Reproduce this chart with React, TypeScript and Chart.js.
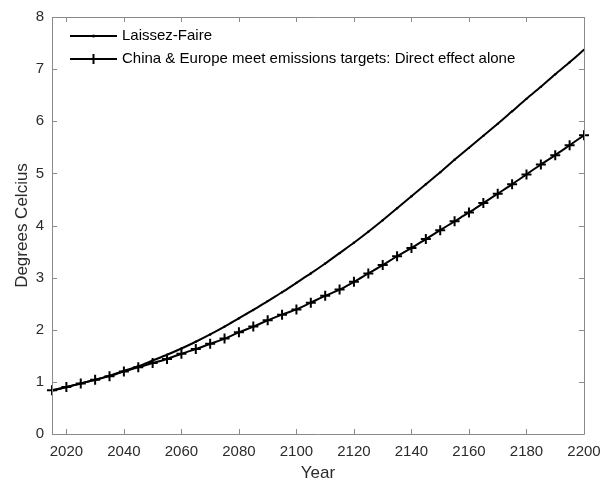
import React, { useEffect, useRef } from "react";
import { Chart, registerables } from "chart.js";

Chart.register(...registerables);

const years = [
  2015, 2020, 2025, 2030, 2035, 2040, 2045, 2050, 2055, 2060, 2065, 2070, 2075,
  2080, 2085, 2090, 2095, 2100, 2105, 2110, 2115, 2120, 2125, 2130, 2135, 2140,
  2145, 2150, 2155, 2160, 2165, 2170, 2175, 2180, 2185, 2190, 2195, 2200,
];

const laissezFaire = [
  0.83, 0.9, 0.97, 1.04, 1.12, 1.21, 1.3, 1.41, 1.52, 1.64, 1.77, 1.91, 2.06,
  2.22, 2.38, 2.55, 2.72, 2.9, 3.08, 3.27, 3.47, 3.67, 3.88, 4.1, 4.33, 4.56,
  4.79, 5.02, 5.26, 5.49, 5.72, 5.95, 6.19, 6.43, 6.66, 6.9, 7.13, 7.37,
];

const chinaEurope = [
  0.84, 0.9, 0.97, 1.04, 1.11, 1.2, 1.28, 1.36, 1.44, 1.54, 1.63, 1.73, 1.83,
  1.95, 2.06, 2.18, 2.29, 2.39, 2.52, 2.65, 2.77, 2.92, 3.08, 3.24, 3.41, 3.57,
  3.74, 3.91, 4.08, 4.25, 4.43, 4.61, 4.79, 4.98, 5.17, 5.35, 5.54, 5.73,
];

const seriesLabels = [
  "Laissez-Faire",
  "China & Europe meet emissions targets: Direct effect alone",
];

const xTicks = [2020, 2040, 2060, 2080, 2100, 2120, 2140, 2160, 2180, 2200];
const yTicks = [0, 1, 2, 3, 4, 5, 6, 7, 8];

const FONT = "'Liberation Sans', Arial, sans-serif";
const AXIS_COLOR = "#8a8a8a";
const TEXT_COLOR = "#2b2b2b";

const boxPlugin = {
  id: "matlabBox",
  afterDatasetsDraw(chart: any) {
    const { ctx, chartArea } = chart;
    const { left, right, top, bottom } = chartArea;
    const xs = chart.scales.x;
    const ys = chart.scales.y;
    ctx.save();
    ctx.strokeStyle = AXIS_COLOR;
    ctx.lineWidth = 1;
    ctx.beginPath();
    ctx.rect(Math.round(left) + 0.5, Math.round(top) + 0.5, Math.round(right - left), Math.round(bottom - top));
    ctx.stroke();
    const tl = 5;
    ctx.beginPath();
    for (const v of xTicks) {
      const px = Math.round(xs.getPixelForValue(v)) + 0.5;
      ctx.moveTo(px, bottom);
      ctx.lineTo(px, bottom - tl);
      ctx.moveTo(px, top);
      ctx.lineTo(px, top + tl);
    }
    for (const v of yTicks) {
      const py = Math.round(ys.getPixelForValue(v)) + 0.5;
      ctx.moveTo(left, py);
      ctx.lineTo(left + tl, py);
      ctx.moveTo(right, py);
      ctx.lineTo(right - tl, py);
    }
    ctx.stroke();

    // legend
    const rows = [
      { y: 36, label: chart.data.datasets[0].label, marker: "dot" },
      { y: 59, label: chart.data.datasets[1].label, marker: "cross" },
    ];
    const x0 = 70;
    const x1 = 117;
    const xm = (x0 + x1) / 2;
    for (const r of rows) {
      ctx.strokeStyle = "#000";
      ctx.lineWidth = 2;
      ctx.beginPath();
      ctx.moveTo(x0, r.y);
      ctx.lineTo(x1, r.y);
      ctx.stroke();
      if (r.marker === "cross") {
        ctx.beginPath();
        ctx.moveTo(xm, r.y - 5);
        ctx.lineTo(xm, r.y + 5);
        ctx.moveTo(xm - 5, r.y);
        ctx.lineTo(xm + 5, r.y);
        ctx.stroke();
      } else {
        ctx.fillStyle = "#000";
        ctx.beginPath();
        ctx.arc(xm, r.y, 1.5, 0, Math.PI * 2);
        ctx.fill();
      }
      ctx.fillStyle = "#000";
      ctx.font = `15px ${FONT}`;
      ctx.textAlign = "left";
      ctx.textBaseline = "middle";
      ctx.fillText(r.label, 122, r.y);
    }
    ctx.restore();
  },
};

export default function App() {
  const ref = useRef<HTMLCanvasElement | null>(null);

  useEffect(() => {
    if (!ref.current) return;
    const chart = new Chart(ref.current, {
      type: "line",
      data: {
        datasets: [
          {
            label: seriesLabels[0],
            data: years.map((x, i) => ({ x, y: laissezFaire[i] })),
            borderColor: "#000",
            backgroundColor: "#000",
            borderWidth: 2,
            pointStyle: "circle",
            pointRadius: 1.2,
            pointBorderWidth: 0,
            tension: 0.3,
            clip: false as any,
          },
          {
            label: seriesLabels[1],
            data: years.map((x, i) => ({ x, y: chinaEurope[i] })),
            borderColor: "#000",
            backgroundColor: "#000",
            borderWidth: 2,
            pointStyle: "cross",
            pointRadius: 5,
            pointBorderWidth: 2,
            tension: 0.3,
            clip: false as any,
          },
        ],
      },
      options: {
        animation: false,
        responsive: false,
        devicePixelRatio: 1,
        layout: { padding: { top: 14, right: 26, left: 0, bottom: 0 } },
        plugins: {
          legend: { display: false },
          tooltip: { enabled: false },
        },
        scales: {
          x: {
            type: "linear",
            min: 2015,
            max: 2200,
            afterBuildTicks: (s: any) => {
              s.ticks = xTicks.map((v) => ({ value: v }));
            },
            afterFit: (s: any) => {
              s.height = 51;
            },
            grid: { display: false, drawTicks: false },
            border: { display: false },
            ticks: {
              color: TEXT_COLOR,
              font: { family: FONT, size: 15 },
              padding: 9,
              maxRotation: 0,
              autoSkip: false,
              callback: (v: any) => String(v),
            },
            title: {
              display: true,
              text: "Year",
              color: TEXT_COLOR,
              font: { family: FONT, size: 17 },
              padding: { top: 0, bottom: 1 },
            },
          },
          y: {
            type: "linear",
            min: 0,
            max: 8,
            afterBuildTicks: (s: any) => {
              s.ticks = yTicks.map((v) => ({ value: v }));
            },
            afterFit: (s: any) => {
              s.width = 52;
            },
            grid: { display: false, drawTicks: false },
            border: { display: false },
            ticks: {
              color: TEXT_COLOR,
              font: { family: FONT, size: 15 },
              padding: 8,
              callback: (v: any) => String(v),
            },
            title: {
              display: true,
              text: "Degrees Celcius",
              color: TEXT_COLOR,
              font: { family: FONT, size: 17 },
              padding: { top: 12, bottom: 0 },
            },
          },
        },
      },
      plugins: [boxPlugin],
    });
    return () => chart.destroy();
  }, []);

  return (
    <div style={{ position: "absolute", left: 0, top: 0, width: 610, height: 485, background: "#fff" }}>
      <canvas ref={ref} width={610} height={485} />
    </div>
  );
}
